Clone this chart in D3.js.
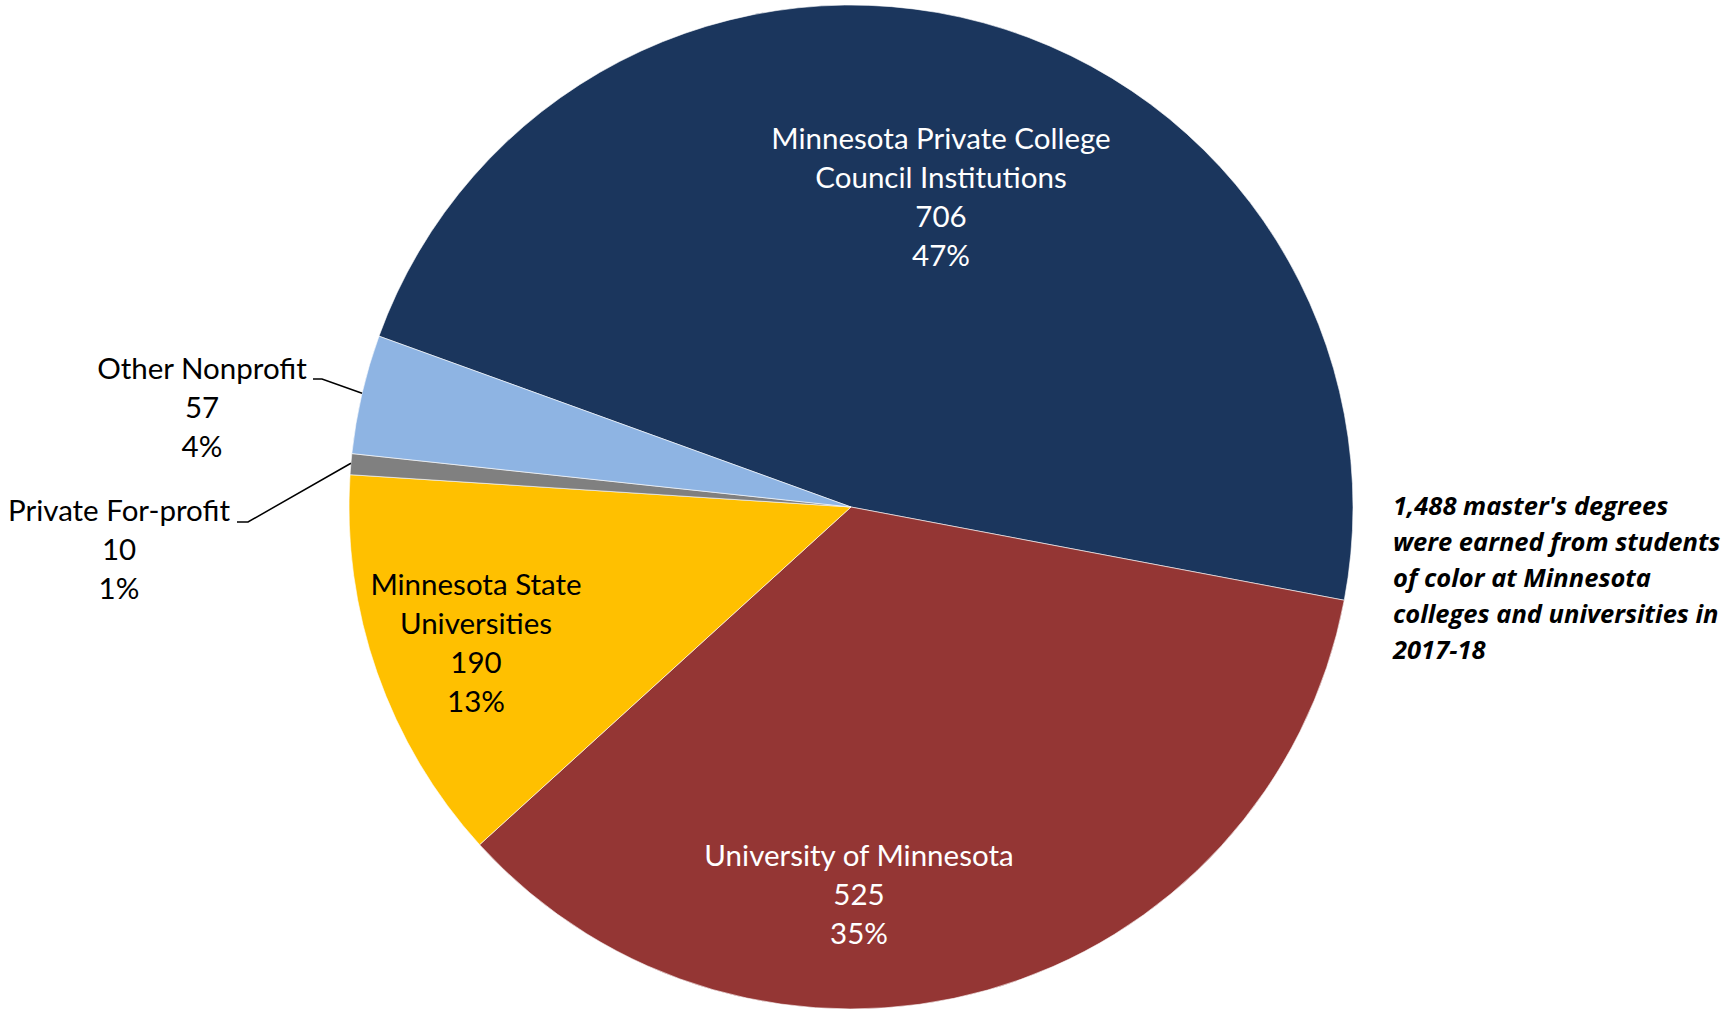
<!DOCTYPE html>
<html>
<head>
<meta charset="utf-8">
<script src="https://cdn.jsdelivr.net/npm/d3@7"></script>
<style>
  html, body { margin: 0; padding: 0; background: #ffffff; }
  svg { display: block; }
  text.lbl { font-family: Lato, "Open Sans", sans-serif; }
  text.note { font-family: "Open Sans", Lato, sans-serif; }
</style>
</head>
<body>
<svg id="chart" width="1728" height="1012"></svg>
<script>
// ---- data ----
const categories = ["Minnesota Private College Council Institutions", "University of Minnesota", "Minnesota State Universities", "Private For-profit", "Other Nonprofit"];
const labelLines = [
  ["Minnesota Private College", "Council Institutions"],
  ["University of Minnesota"],
  ["Minnesota State", "Universities"],
  ["Private For-profit"],
  ["Other Nonprofit"]
];
const values = [706, 525, 190, 10, 57];
const percentLabels = ["47%", "35%", "13%", "1%", "4%"];
const colors = ["#1b365d", "#943634", "#ffc000", "#808080", "#8eb4e3"];
const noteLines = ["1,488 master's degrees", "were earned from students", "of color at Minnesota", "colleges and universities in", "2017-18"];

// ---- layout ----
const W = 1728, H = 1012;
const cx = 851, cy = 507, R = 502;
const startDeg = -70.1;
const lineH = 39;
const labelLayout = [
  { x: 941, y: 149, fill: "#ffffff" },
  { x: 859, y: 866, fill: "#ffffff" },
  { x: 476, y: 595, fill: "#000000" },
  { x: 119, y: 521, fill: "#000000", leader: { hx0: 237, hx1: 248, hy: 522, r: 1.0, ang: 275.0 } },
  { x: 202, y: 379, fill: "#000000", leader: { hx0: 313, hx1: 322, hy: 379, r: 1.0, ang: 283.1 } }
];

const svg = d3.select("#chart");
const g = svg.append("g").attr("transform", `translate(${cx},${cy})`);

const toRad = d => d * Math.PI / 180;
const pie = d3.pie().sort(null).value(d => d)
  .startAngle(toRad(startDeg)).endAngle(toRad(startDeg + 360));
const arcs = pie(values);
const arc = d3.arc().innerRadius(0).outerRadius(R);

g.selectAll("path.slice").data(arcs).enter().append("path")
  .attr("class", "slice")
  .attr("d", arc)
  .attr("fill", (d, i) => colors[i])
  .attr("stroke", "#ffffff")
  .attr("stroke-width", 0.6);

// labels
const fs = 29.5;
arcs.forEach((a, i) => {
  const L = labelLayout[i];
  const lines = labelLines[i].concat([String(values[i]), percentLabels[i]]);
  const t = svg.append("text")
    .attr("class", "lbl")
    .attr("text-anchor", "middle")
    .attr("font-size", fs)
    .attr("fill", L.fill);
  lines.forEach((s, k) => {
    t.append("tspan").attr("x", L.x).attr("y", L.y + k * lineH).text(s);
  });
  if (L.leader) {
    const ld = L.leader;
    const mid = toRad(ld.ang);
    const ex = cx + Math.sin(mid) * R * ld.r;
    const ey = cy - Math.cos(mid) * R * ld.r;
    svg.append("path")
      .attr("d", `M${ld.hx0},${ld.hy} L${ld.hx1},${ld.hy} L${ex},${ey}`)
      .attr("fill", "none")
      .attr("stroke", "#000000")
      .attr("stroke-width", 1.5);
  }
});

// note
const note = svg.append("text")
  .attr("class", "note")
  .attr("font-size", 25.5)
  .attr("font-weight", "bold")
  .attr("font-style", "italic")
  .attr("fill", "#000000");
noteLines.forEach((s, k) => {
  note.append("tspan").attr("x", 1393).attr("y", 515 + k * 36).text(s);
});
</script>
</body>
</html>
